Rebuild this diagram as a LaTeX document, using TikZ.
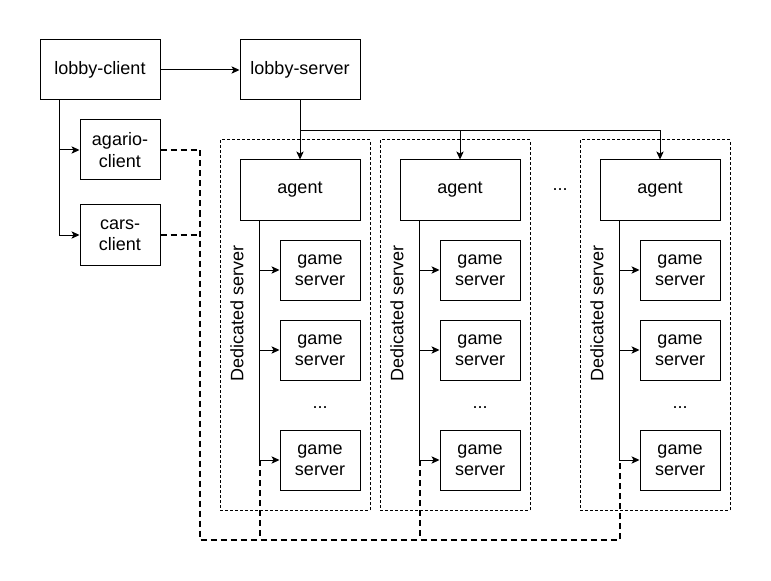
\documentclass[tikz,border=0pt]{standalone}
\usepackage{fontspec}
\setmainfont{Liberation Sans}
\usetikzlibrary{arrows.meta}
\tikzset{
  >={Stealth[length=6pt,width=5.5pt,inset=1.5pt]},
  box/.style={draw, line width=0.75pt, minimum width=90pt, minimum height=45pt, align=center, inner sep=0pt},
  small/.style={box, minimum width=60pt},
  host/.style={draw, line width=0.75pt, dash pattern=on 2.25pt off 1.5pt, minimum width=112.5pt, minimum height=277.5pt, inner sep=0pt},
  link/.style={line width=1.5pt, dash pattern=on 4.5pt off 3pt},
  conn/.style={line width=0.75pt}
}
\begin{document}
\begin{tikzpicture}[x=0.75pt,y=-0.75pt,font=\fontsize{13.5}{16}\selectfont]
  \useasboundingbox (0,0) rectangle (771,581);
  % clients
  \node[box] (lc) at (100,70) {lobby-client};
  \node[box] (ls) at (300,70) {lobby-server};
  \node[small] (ac) at (120,150) {agario-\\client};
  \node[small] (cc) at (120,235) {cars-\\client};
  \draw[conn,->] (lc) -- (ls);
  \draw[conn,->] (lc.south west) ++(20,0) |- (ac.west);
  \draw[conn,->] (lc.south west) ++(20,0) |- (cc.west);

  % dedicated servers
  \node[host] (h1) at (295,325) {};
  \node[host] (h2) at (455,325) {};
  \node[host] (h3) at (655,325) {};
  \node[rotate=90] (t1) at (237,313) {Dedicated server};
  \node[rotate=90] (t2) at (397,313) {Dedicated server};
  \node[rotate=90] (t3) at (597,313) {Dedicated server};
  \node (more) at (560,190) {...};

  \node[box] (ag1) at (300,190) {agent};
  \node[box] (ag2) at (460,190) {agent};
  \node[box] (ag3) at (660,190) {agent};

  \node[small] (g11) at (320,270) {game\\server};
  \node[small] (g12) at (320,350) {game\\server};
  \node (d1) at (320,408) {...};
  \node[small] (g13) at (320,460) {game\\server};
  \node[small] (g21) at (480,270) {game\\server};
  \node[small] (g22) at (480,350) {game\\server};
  \node (d2) at (480,408) {...};
  \node[small] (g23) at (480,460) {game\\server};
  \node[small] (g31) at (680,270) {game\\server};
  \node[small] (g32) at (680,350) {game\\server};
  \node (d3) at (680,408) {...};
  \node[small] (g33) at (680,460) {game\\server};

  % lobby-server to agents
  \draw[conn,->] (ls) -- (ag1);
  \draw[conn,->] (ls.south) ++(0,30) -| (ag2.north);
  \draw[conn,->] (ls.south) ++(0,30) -| (ag3.north);
  \draw[conn] (ls.south) ++(0,30) -- ++(200,0);

  % agents to game servers
  \draw[conn,->] (ag1.south west) ++(20,0) |- (g11.west);
  \draw[conn,->] (ag1.south west) ++(20,0) |- (g12.west);
  \draw[conn,->] (ag1.south west) ++(20,0) |- (g13.west);
  \draw[conn,->] (ag2.south west) ++(20,0) |- (g21.west);
  \draw[conn,->] (ag2.south west) ++(20,0) |- (g22.west);
  \draw[conn,->] (ag2.south west) ++(20,0) |- (g23.west);
  \draw[conn,->] (ag3.south west) ++(20,0) |- (g31.west);
  \draw[conn,->] (ag3.south west) ++(20,0) |- (g32.west);
  \draw[conn,->] (ag3.south west) ++(20,0) |- (g33.west);

  % game connections
  \coordinate (bl) at (200,540);
  \coordinate (j1) at ([xshift=-15pt]g13.west);
  \coordinate (j2) at ([xshift=-15pt]g23.west);
  \coordinate (j3) at ([xshift=-15pt]g33.west);
  \draw[link] (ac.east) -| (bl) -| (j3);
  \draw[link] (cc.east) -- (cc.east -| bl);
  \draw[link] (j1) -- (j1 |- bl);
  \draw[link] (j2) -- (j2 |- bl);
\end{tikzpicture}
\end{document}
